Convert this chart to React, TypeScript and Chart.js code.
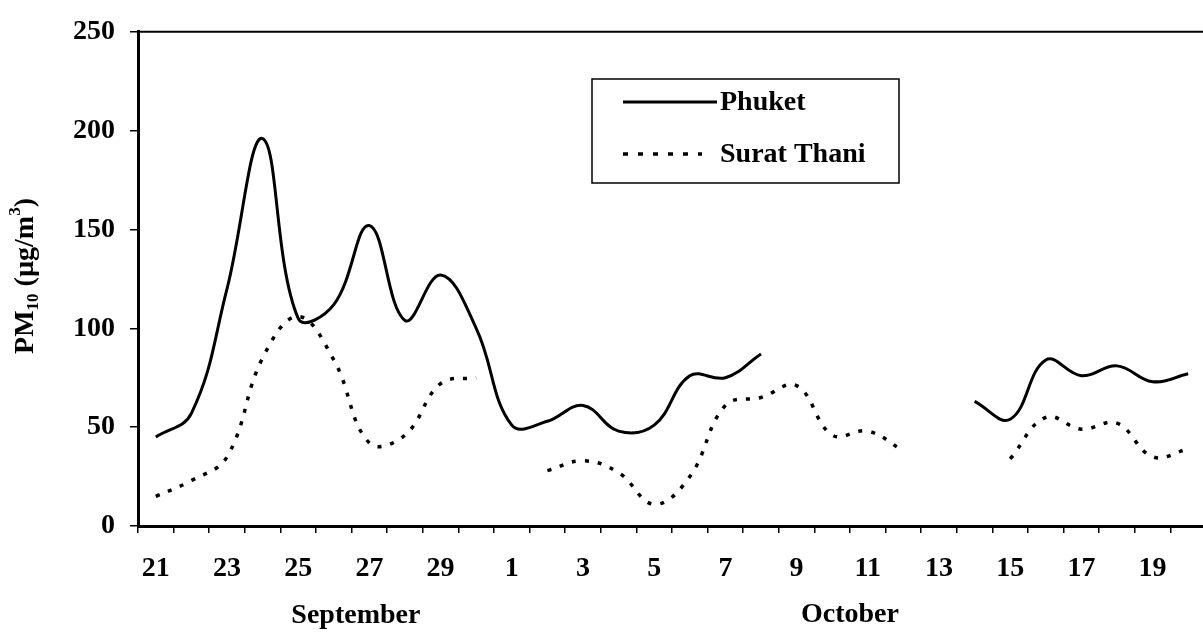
import React, { useEffect, useRef } from 'react';
import { Chart, registerables } from 'chart.js';

Chart.register(...registerables);

// Days: 21–30 September, 1–20 October
const DAYS = ['21', '22', '23', '24', '25', '26', '27', '28', '29', '30',
  '1', '2', '3', '4', '5', '6', '7', '8', '9', '10',
  '11', '12', '13', '14', '15', '16', '17', '18', '19', '20'];

const PHUKET: (number | null)[] = [45, 57, 120, 196, 105, 112, 152, 104, 127, 100,
  51, 53, 61, 48, 51, 76, 75, 87, null, null,
  null, null, null, 63, 54, 84, 76, 81, 73, 77];

const SURAT_THANI: (number | null)[] = [15, 23, 35, 85, 106, 84, 42, 46, 72, 75,
  null, 28, 33, 27, 11, 25, 61, 65, 71, 46,
  48, 38, null, null, 34, 55, 49, 52, 35, 39];

const SERIES_NAMES = ['Phuket', 'Surat Thani'];
const MONTHS = ['September', 'October'];
const Y_TICKS = [0, 50, 100, 150, 200, 250];

const FONT = "'Liberation Serif', 'Times New Roman', serif";
const FS = 28;

const decorPlugin = {
  id: 'decor',
  afterDraw(chart: any) {
    const { ctx, chartArea: a, scales } = chart;
    const x = scales.x;
    ctx.save();
    // top frame line
    ctx.strokeStyle = '#000';
    ctx.lineWidth = 2;
    ctx.beginPath();
    ctx.moveTo(a.left, a.top);
    ctx.lineTo(a.right, a.top);
    ctx.stroke();

    // month labels
    ctx.fillStyle = '#000';
    ctx.font = `bold ${FS}px ${FONT}`;
    ctx.textAlign = 'center';
    ctx.textBaseline = 'alphabetic';
    const step = (x.getPixelForTick(1) - x.getPixelForTick(0));
    const sepX = x.getPixelForTick(5) + step * 0.62;
    const octX = x.getPixelForTick(19) + step * 0.5;
    ctx.fillText(MONTHS[0], sepX, 623);
    ctx.fillText(MONTHS[1], octX, 622);

    // y-axis title with sub/superscript
    ctx.translate(33, 276);
    ctx.rotate(-Math.PI / 2);
    const parts = [
      { t: 'PM', f: `bold ${FS}px ${FONT}`, dy: 0 },
      { t: '10', f: `bold 17px ${FONT}`, dy: 5 },
      { t: ' (\u00b5g/m', f: `bold ${FS}px ${FONT}`, dy: 0 },
      { t: '3', f: `bold 17px ${FONT}`, dy: -13 },
      { t: ')', f: `bold ${FS}px ${FONT}`, dy: 0 },
    ];
    let total = 0;
    for (const p of parts) { ctx.font = p.f; total += ctx.measureText(p.t).width; }
    let cx = -total / 2;
    ctx.textAlign = 'left';
    for (const p of parts) {
      ctx.font = p.f;
      ctx.fillText(p.t, cx, p.dy);
      cx += ctx.measureText(p.t).width;
    }
    ctx.restore();

    // legend box
    ctx.save();
    ctx.strokeStyle = '#000';
    ctx.lineWidth = 1.5;
    ctx.strokeRect(592, 79, 307, 104);
    const rows = [102, 154];
    chart.data.datasets.forEach((ds: any, i: number) => {
      const y = rows[i];
      ctx.strokeStyle = '#000';
      ctx.lineWidth = ds.borderWidth;
      ctx.setLineDash(i === 0 ? [] : [5, 10]);
      ctx.beginPath();
      ctx.moveTo(623, y);
      ctx.lineTo(i === 0 ? 717 : 702, y);
      ctx.stroke();
      ctx.setLineDash([]);
      ctx.fillStyle = '#000';
      ctx.font = `bold ${FS}px ${FONT}`;
      ctx.textAlign = 'left';
      ctx.textBaseline = 'middle';
      ctx.fillText(ds.label, 720, y + 1);
    });
    ctx.restore();
  },
};

export default function App() {
  const ref = useRef<HTMLCanvasElement>(null);
  useEffect(() => {
    if (!ref.current) return;
    const chart = new Chart(ref.current, {
      type: 'line',
      data: {
        labels: DAYS,
        datasets: [
          {
            label: SERIES_NAMES[0],
            data: PHUKET,
            borderColor: '#000',
            borderWidth: 3,
            pointRadius: 0,
            tension: 0.4,
            spanGaps: false,
            fill: false,
          },
          {
            label: SERIES_NAMES[1],
            data: SURAT_THANI,
            borderColor: '#000',
            borderWidth: 3.5,
            borderDash: [4, 9],
            pointRadius: 0,
            tension: 0.4,
            spanGaps: false,
            fill: false,
          },
        ],
      },
      options: {
        responsive: false,
        animation: false,
        layout: { padding: { top: 26, left: 0, right: 4, bottom: 0 } },
        plugins: { legend: { display: false }, tooltip: { enabled: false } },
        scales: {
          x: {
            type: 'category',
            offset: true,
            grid: { offset: true, drawOnChartArea: false, drawTicks: true, tickLength: 7, color: '#000', lineWidth: 1.5 },
            border: { display: true, color: '#000', width: 3 },
            ticks: {
              autoSkip: false,
              maxRotation: 0,
              minRotation: 0,
              color: '#000',
              padding: 19,
              font: { family: FONT, size: FS, weight: 'bold' },
              callback: (_v: any, i: number) => (i % 2 === 0 ? DAYS[i] : ''),
            },
            afterFit: (s: any) => { s.height = 106; },
          },
          y: {
            min: 0,
            max: 250,
            afterBuildTicks: (s: any) => { s.ticks = Y_TICKS.map((v) => ({ value: v })); },
            grid: { drawOnChartArea: false, drawTicks: true, tickLength: 8, color: '#000', lineWidth: 1.5 },
            border: { display: true, color: '#000', width: 3 },
            ticks: {
              color: '#000',
              padding: 15,
              font: { family: FONT, size: FS, weight: 'bold' },
            },
            afterFit: (s: any) => { s.width = 138; },
          },
        },
      },
      plugins: [decorPlugin],
    });
    return () => chart.destroy();
  }, []);

  return (
    <div style={{ position: 'fixed', left: 0, top: 0, width: 1203, height: 632, overflow: 'hidden', background: '#fff' }}>
      <canvas ref={ref} width={1210} height={632} style={{ width: 1210, height: 632, display: 'block' }} />
    </div>
  );
}
